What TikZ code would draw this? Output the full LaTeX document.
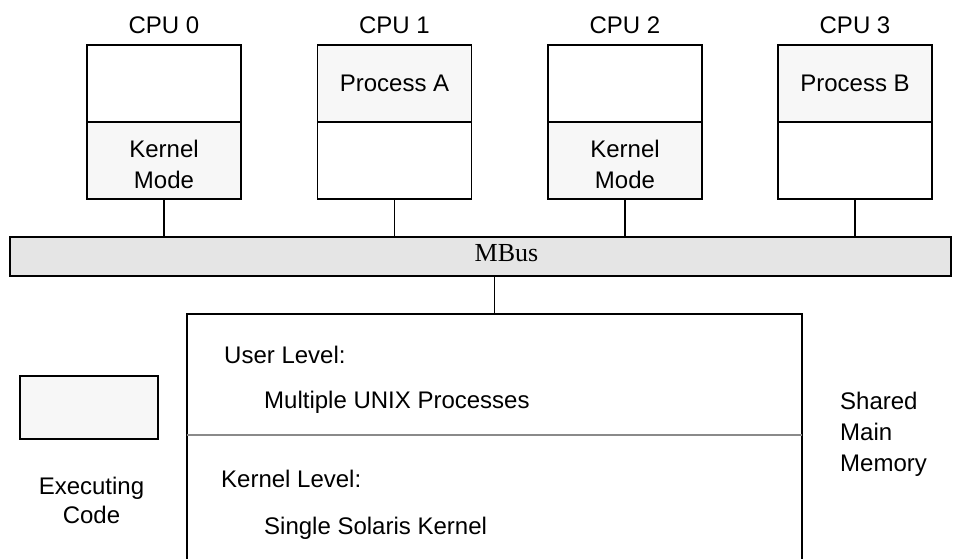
\documentclass[tikz,border=0pt]{standalone}
\usepackage{fontspec}
\setmainfont{Liberation Sans}
\newfontfamily\busfont{Liberation Serif}
\definecolor{cellfill}{HTML}{F7F7F7}
\definecolor{busfill}{HTML}{E5E5E5}
\definecolor{divider}{HTML}{8A8A8A}
\begin{document}
\begin{tikzpicture}[x=1pt,y=-1pt,
  every node/.style={font=\fontsize{24}{31}\selectfont},
  half/.style={draw, line width=1.5pt, minimum width=154pt, minimum height=77pt,
    inner sep=0pt, outer sep=0pt, align=center},
  shaded/.style={fill=cellfill},
  wire/.style={line width=1.5pt},
  lbl/.style={anchor=base, inner sep=0pt},
  modetext/.style={align=center, inner sep=0pt, yshift=-4pt}]
\useasboundingbox (0,0) rectangle (961,558);

% processors: upper and lower halves
\foreach \i/\x in {0/164,1/394.5,2/625,3/855} {
  \node[lbl] (cpu\i label) at (\x,33) {CPU \i};
}
\node[half] (cpu0 top) at (164,83.5) {};
\node[half, shaded] (cpu0 bot) at (164,160.5) {};
\node[half, shaded] (cpu1 top) at (394.5,83.5) {Process A};
\node[half] (cpu1 bot) at (394.5,160.5) {};
\node[half] (cpu2 top) at (625,83.5) {};
\node[half, shaded] (cpu2 bot) at (625,160.5) {};
\node[half, shaded] (cpu3 top) at (855,83.5) {Process B};
\node[half] (cpu3 bot) at (855,160.5) {};
\node[modetext] (mode0) at (cpu0 bot.center) {Kernel\\Mode};
\node[modetext] (mode2) at (cpu2 bot.center) {Kernel\\Mode};

% system bus
\node[draw, line width=1.5pt, fill=busfill, minimum width=941pt, minimum height=39pt,
  inner sep=0pt, outer sep=0pt] (bus) at (480.5,256.5) {};
\node[font=\busfont\fontsize{26}{30}\selectfont, anchor=base, inner sep=0pt] (buslabel) at (506.5,261) {MBus};

\foreach \i in {0,1,2,3} {
  \draw[wire] (cpu\i\space bot.south) -- (cpu\i\space bot.south |- bus.north);
}

% shared memory (runs past the lower edge)
\coordinate (memtop) at (494.5,314);
\begin{scope}
  \clip (0,0) rectangle (961,558);
  \node[draw, line width=1.5pt, minimum width=615pt, minimum height=280pt,
    inner sep=0pt, outer sep=0pt, anchor=north] (mem) at (memtop) {};
  \draw[divider, line width=1.5pt] (mem.west |- 0,435) coordinate (divl) -- (mem.east |- 0,435) coordinate (divr);
\end{scope}
\draw[wire] (mem.north) -- (mem.north |- bus.south);

\node[anchor=base west, inner sep=0pt] (ulevel) at (224,363) {User Level:};
\node[anchor=base west, inner sep=0pt] (uproc) at (264,408) {Multiple UNIX Processes};
\node[anchor=base west, inner sep=0pt] (klevel) at (221,487) {Kernel Level:};
\node[anchor=base west, inner sep=0pt] (kern) at (264,534) {Single Solaris Kernel};

\node[anchor=base west, inner sep=0pt] (shared) at (840,409) {Shared};
\node[anchor=base west, inner sep=0pt] (main) at (840,440) {Main};
\node[anchor=base west, inner sep=0pt] (memory) at (840,471) {Memory};

% legend
\node[draw, line width=1.5pt, fill=cellfill, minimum width=138pt, minimum height=63pt,
  inner sep=0pt, outer sep=0pt] (legend) at (89,407.5) {};
\node[lbl] (exec) at (91.5,494) {Executing};
\node[lbl] (code) at (91.5,523) {Code};
\end{tikzpicture}
\end{document}
